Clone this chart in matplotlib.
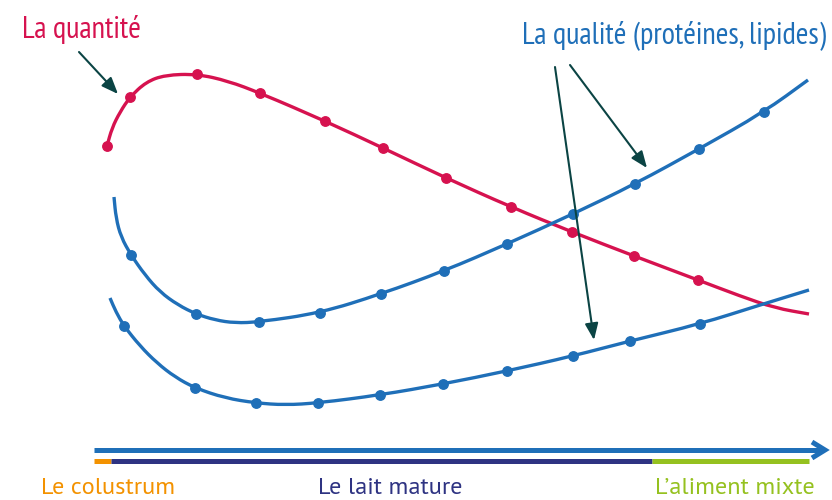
"""Quantité / qualité du lait selon le stade"""
import matplotlib.pyplot as plt
from matplotlib.path import Path
from matplotlib.patches import PathPatch

# couleurs
ROUGE = '#d6124f'
BLEU = '#1f6fb8'
FLECHE = '#0b4444'
ORANGE = '#f39200'
MARINE = '#2e3382'
VERT = '#95c11f'
FONT_TITRE = ['PT Sans Narrow', 'DejaVu Sans']
FONT_PHASE = ['PT Sans', 'DejaVu Sans']

# courbe quantité (repère image, y vers le bas)
quant_x = [107, 112, 120, 130, 146, 165, 197, 228, 260, 325, 383, 446, 511, 572, 634, 698, 740, 775, 809]
quant_y = [146, 128, 112, 97, 82, 75, 74, 81, 93, 121, 148, 178, 207, 232, 256, 280, 296, 308, 314]
quant_pts_x = [107, 130, 197, 260, 325, 383, 446, 511, 572, 634, 698]
quant_pts_y = [146, 97, 74, 93, 121, 148, 178, 207, 232, 256, 280]

# courbe qualité haute
qh_x = [114, 116, 121, 131, 145, 160, 178, 196, 215, 235, 259, 320, 381, 444, 507, 573, 635, 699, 764, 808]
qh_y = [197, 218, 237, 255, 275, 292, 305, 314, 320, 323, 322, 313, 294, 271, 244, 214, 184, 149, 112, 80]
qh_pts_x = [131, 196, 259, 320, 381, 444, 507, 573, 635, 699, 764]
qh_pts_y = [255, 314, 322, 313, 294, 271, 244, 214, 184, 149, 112]

# courbe qualité basse
qb_x = [110, 116, 124, 140, 157, 175, 195, 225, 256, 285, 318, 380, 443, 507, 573, 630, 700, 760, 809]
qb_y = [298, 312, 326, 346, 363, 377, 388, 398, 403, 405, 403, 395, 384, 371, 356, 341, 324, 305, 290]
qb_pts_x = [124, 195, 256, 318, 380, 443, 507, 573, 630, 700]
qb_pts_y = [326, 388, 403, 403, 395, 384, 371, 356, 341, 324]

# phases sous l'axe du temps
phases = ['Le colustrum', 'Le lait mature', "L’aliment mixte"]
phase_debut = [94, 111, 652]
phase_fin = [111, 652, 809]
phase_couleurs = [ORANGE, MARINE, VERT]
phase_label_x = [41, 318, 655]


def courbe(ax, xs, ys, couleur):
    # tracé lissé (b-spline quadratique) passant près des points relevés
    p = list(zip(xs, ys))
    verts = [p[0], ((p[0][0] + p[1][0]) / 2, (p[0][1] + p[1][1]) / 2)]
    codes = [Path.MOVETO, Path.LINETO]
    for i in range(1, len(p) - 1):
        m = ((p[i][0] + p[i + 1][0]) / 2, (p[i][1] + p[i + 1][1]) / 2)
        verts += [p[i], m]
        codes += [Path.CURVE3, Path.CURVE3]
    verts.append(p[-1])
    codes.append(Path.LINETO)
    ax.add_patch(PathPatch(Path(verts, codes), fill=False, edgecolor=couleur, lw=2.4,
                           capstyle='butt'))


fig = plt.figure(figsize=(8.32, 5), dpi=100)
ax = fig.add_axes([0, 0, 1, 1])
ax.set_xlim(0, 832)
ax.set_ylim(500, 0)
ax.axis('off')

courbe(ax, quant_x, quant_y, ROUGE)
ax.plot(quant_pts_x, quant_pts_y, 'o', color=ROUGE, ms=6.8)
courbe(ax, qh_x, qh_y, BLEU)
ax.plot(qh_pts_x, qh_pts_y, 'o', color=BLEU, ms=6.8)
courbe(ax, qb_x, qb_y, BLEU)
ax.plot(qb_pts_x, qb_pts_y, 'o', color=BLEU, ms=6.8)

# titres
ax.text(22, 38, 'La quantité', color=ROUGE, fontsize=22, family=FONT_TITRE)
ax.text(522, 43, 'La qualité (protéines, lipides)', color=BLEU, fontsize=22, family=FONT_TITRE)

# flèches d'annotation
fl = dict(arrowstyle='-|>,head_length=1.0,head_width=0.4', color=FLECHE, lw=1.5, shrinkA=0, shrinkB=0)
ax.annotate('', xy=(118, 94), xytext=(79, 52), arrowprops=fl)
ax.annotate('', xy=(594, 340), xytext=(555, 67), arrowprops=fl)
ax.annotate('', xy=(647, 168), xytext=(570, 65), arrowprops=fl)

# axe du temps : trait + pointe en chevron
ax.plot([94, 824], [450, 450], color=BLEU, lw=3.6, solid_capstyle='butt')
ax.plot([812, 825, 812], [442, 450, 458], color=BLEU, lw=3.6,
        solid_joinstyle='miter', solid_capstyle='butt')
for d, f, c in zip(phase_debut, phase_fin, phase_couleurs):
    ax.plot([d, f], [460.5, 460.5], color=c, lw=3.6, solid_capstyle='butt')
for lab, x, c in zip(phases, phase_label_x, phase_couleurs):
    ax.text(x, 494, lab, color=c, fontsize=17.5, family=FONT_PHASE)

plt.savefig('out.png')
